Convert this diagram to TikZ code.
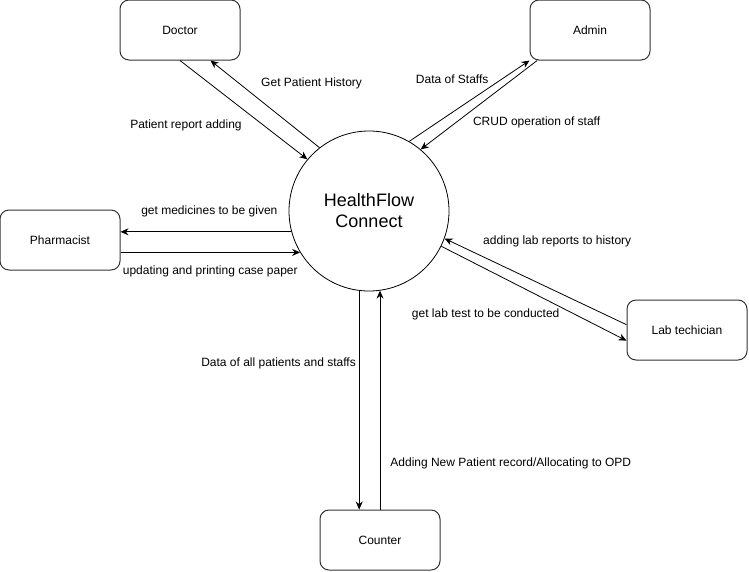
\documentclass[tikz,border=0pt]{standalone}
\usepackage{fontspec}
\setmainfont{Liberation Sans}
\usetikzlibrary{arrows.meta}

\begin{document}
\begin{tikzpicture}[x=1pt,y=-1pt,
  box/.style={rectangle,rounded corners=9pt,draw=black!80,line width=1pt,minimum width=120pt,minimum height=60pt,inner sep=0pt,font=\fontsize{12}{14}\selectfont},
  proc/.style={circle,draw=black,line width=0.8pt,minimum size=160pt,inner sep=0pt,align=center,font=\fontsize{18}{21}\selectfont},
  flow/.style={-{Stealth[length=8pt,width=7pt]},line width=0.8pt},
  lbl/.style={font=\fontsize{12}{14}\selectfont,inner sep=0pt}]
\useasboundingbox (0,0) rectangle (749,571);

\node[proc] (hf) at (369,211) {HealthFlow\\Connect};
\node[box] (doc) at (180,30) {Doctor};
\node[box] (adm) at (590,30) {Admin};
\node[box] (pha) at (60,240) {Pharmacist};
\node[box] (lab) at (687,330) {Lab techician};
\node[box] (cnt) at (380,540) {Counter};

\draw [flow] (doc.south) to node[lbl,pos=0.66,anchor=east,xshift=-22pt] {Patient report adding} (hf.140);
\draw [flow] (hf.128) to node[lbl,pos=0.74,anchor=west,xshift=22pt] {Get Patient History} (doc.-45);
\draw [flow] (hf.60) to node[lbl,pos=0.77,anchor=east,xshift=-13pt] {Data of Staffs} (adm.south west);
\draw [flow] (adm.-150) to node[lbl,pos=0.70,anchor=west,xshift=17pt] {CRUD operation of staff} (hf.50);
\draw [flow] (hf.195) to node[lbl,pos=0.48,yshift=20pt] {get medicines to be given} (hf.195 -| pha.east);
\draw [flow] (pha.east |- hf.211) to node[lbl,pos=0.5,yshift=-19pt] {updating and printing case paper} (hf.211);
\draw [flow] (lab.175) to node[lbl,pos=0.79,anchor=west,yshift=15pt] {adding lab reports to history} (hf.-20);
\draw [flow] (hf.-26) to node[lbl,pos=0.64,anchor=east,yshift=-8pt] {get lab test to be conducted} (lab.190);
\draw [flow] (hf.-97) to node[lbl,pos=0.33,anchor=east,xshift=-3pt] {Data of all patients and staffs} (hf.-97 |- cnt.north);
\draw [flow] (cnt.north) to node[lbl,pos=0.21,anchor=west,xshift=10pt] {Adding New Patient record/Allocating to OPD} (cnt.north |- hf.-82);
\end{tikzpicture}
\end{document}
